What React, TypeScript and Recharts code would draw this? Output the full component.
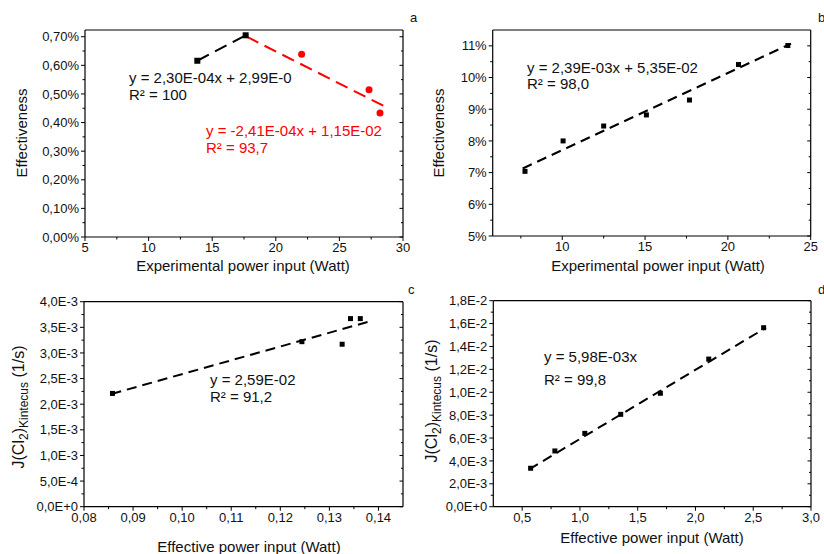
import React from 'react';
import { ScatterChart, Scatter, XAxis, YAxis } from 'recharts';

// ---------- Data ----------
// Panel a
const aBlackPoints = [
  { x: 13.83, y: 0.616 },
  { x: 17.63, y: 0.705 },
];
const aRedPoints = [
  { x: 22.03, y: 0.639 },
  { x: 27.33, y: 0.515 },
  { x: 28.19, y: 0.433 },
];
const aBlackFit = [
  { x: 13.83, y: 0.616 },
  { x: 17.63, y: 0.705 },
];
const aRedFit = [
  { x: 17.71, y: 0.7 },
  { x: 28.72, y: 0.453 },
];
const aXTicks = [5, 7.5, 10, 12.5, 15, 17.5, 20, 22.5, 25, 27.5, 30];
const aXMajors = [5, 10, 15, 20, 25, 30];
const aYTicks = [0, 0.05, 0.1, 0.15, 0.2, 0.25, 0.3, 0.35, 0.4, 0.45, 0.5, 0.55, 0.6, 0.65, 0.7];
const aYMajors = [0, 0.1, 0.2, 0.3, 0.4, 0.5, 0.6, 0.7];

// Panel b
const bPoints = [
  { x: 7.75, y: 7.04 },
  { x: 10.05, y: 8.0 },
  { x: 12.5, y: 8.47 },
  { x: 15.08, y: 8.82 },
  { x: 17.68, y: 9.29 },
  { x: 20.64, y: 10.41 },
  { x: 23.62, y: 11.01 },
];
const bFit = [
  { x: 7.61, y: 7.13 },
  { x: 23.81, y: 11.07 },
];
const bXTicks = [7.5, 10, 12.5, 15, 17.5, 20, 22.5, 25];
const bXMajors = [10, 15, 20, 25];
const bYTicks = [5, 5.5, 6, 6.5, 7, 7.5, 8, 8.5, 9, 9.5, 10, 10.5, 11];
const bYMajors = [5, 6, 7, 8, 9, 10, 11];

// Panel c
const cPoints = [
  { x: 0.0858, y: 0.00221 },
  { x: 0.1244, y: 0.00322 },
  { x: 0.1326, y: 0.00317 },
  { x: 0.1343, y: 0.00367 },
  { x: 0.1363, y: 0.00367 },
];
const cFit = [
  { x: 0.0856, y: 0.0022 },
  { x: 0.138, y: 0.00361 },
];
const cXTicks = [0.08, 0.085, 0.09, 0.095, 0.1, 0.105, 0.11, 0.115, 0.12, 0.125, 0.13, 0.135, 0.14];
const cXMajors = [0.08, 0.09, 0.1, 0.11, 0.12, 0.13, 0.14];
const cYTicks = [0, 0.00025, 0.0005, 0.00075, 0.001, 0.00125, 0.0015, 0.00175, 0.002, 0.00225, 0.0025, 0.00275, 0.003, 0.00325, 0.0035, 0.00375, 0.004];
const cYMajors = [0, 0.0005, 0.001, 0.0015, 0.002, 0.0025, 0.003, 0.0035, 0.004];

// Panel d
const dPoints = [
  { x: 0.573, y: 0.00336 },
  { x: 0.783, y: 0.00487 },
  { x: 1.042, y: 0.00641 },
  { x: 1.353, y: 0.00807 },
  { x: 1.696, y: 0.00991 },
  { x: 2.115, y: 0.0129 },
  { x: 2.59, y: 0.01564 },
];
const dFit = [
  { x: 0.561, y: 0.00327 },
  { x: 2.61, y: 0.01564 },
];
const dXTicks = [0.5, 0.75, 1, 1.25, 1.5, 1.75, 2, 2.25, 2.5, 2.75, 3];
const dXMajors = [0.5, 1, 1.5, 2, 2.5, 3];
const dYTicks = [0, 0.001, 0.002, 0.003, 0.004, 0.005, 0.006, 0.007, 0.008, 0.009, 0.01, 0.011, 0.012, 0.013, 0.014, 0.015, 0.016, 0.017, 0.018];
const dYMajors = [0, 0.002, 0.004, 0.006, 0.008, 0.01, 0.012, 0.014, 0.016, 0.018];

// ---------- Formatting ----------
const FONT = '"Liberation Sans", Arial, sans-serif';
const comma = (s: string) => s.replace('.', ',');
const fmtInt = (v: number) => String(Math.round(v));
const fmtPct2 = (v: number) => comma(v.toFixed(2)) + '%';
const fmtPct0 = (v: number) => v.toFixed(0) + '%';
const fmtFix2 = (v: number) => comma(v.toFixed(2));
const fmtFix1 = (v: number) => comma(v.toFixed(1));
const fmtSci = (v: number) => {
  if (v === 0) return '0,0E+0';
  const e = Math.floor(Math.log10(v) + 1e-9);
  const m = v / Math.pow(10, e);
  return comma(m.toFixed(1)) + 'E' + (e >= 0 ? '+' : '-') + Math.abs(e);
};

const isMajor = (v: number, majors: number[]) =>
  majors.some((m) => Math.abs(m - v) <= 1e-12 + 1e-7 * Math.abs(m));

type Side = 'bottom' | 'left' | 'top' | 'right';
function makeTick(side: Side, majors: number[], fmt?: (v: number) => string) {
  return (props: any) => {
    const { x, y, payload } = props;
    const v = payload.value;
    const maj = isMajor(v, majors);
    const L = maj ? 4 : 2.5;
    const stroke = '#000';
    if (side === 'bottom') {
      return (
        <g>
          <line x1={x} y1={y} x2={x} y2={y + L} stroke={stroke} strokeWidth={1} />
          {maj && fmt ? (
            <text x={x} y={y + 15} textAnchor="middle" fontSize={13} fontFamily={FONT} fill="#111">
              {fmt(v)}
            </text>
          ) : null}
        </g>
      );
    }
    if (side === 'left') {
      return (
        <g>
          <line x1={x - L} y1={y} x2={x} y2={y} stroke={stroke} strokeWidth={1} />
          {maj && fmt ? (
            <text x={x - 6} y={y + 4.6} textAnchor="end" fontSize={13} fontFamily={FONT} fill="#111">
              {fmt(v)}
            </text>
          ) : null}
        </g>
      );
    }
    if (side === 'top') {
      return <line x1={x} y1={y} x2={x} y2={y + (maj ? 3.5 : 2)} stroke={stroke} strokeWidth={1} />;
    }
    return <line x1={x - (maj ? 3.5 : 2)} y1={y} x2={x} y2={y} stroke={stroke} strokeWidth={1} />;
  };
}

const Empty = () => <g />;
const squareShape = (size: number) => (props: any) => (
  <rect x={props.cx - size / 2} y={props.cy - size / 2} width={size} height={size} fill="#000" />
);
const circleShape = (props: any) => <circle cx={props.cx} cy={props.cy} r={3.5} fill="#ff0000" />;

const axisLineStyle = { stroke: '#000', strokeWidth: 1.2 };

interface PanelProps {
  left: number;
  top: number;
  plot: { top: number; right: number; bottom: number; left: number }; // distances of plot box from panel edges
  xDomain: [number, number];
  yDomain: [number, number];
  xTicks: number[];
  xMajors: number[];
  xFmt: (v: number) => string;
  yTicks: number[];
  yMajors: number[];
  yFmt: (v: number) => string;
  children?: React.ReactNode;
}

function Panel(p: PanelProps) {
  const margin = {
    top: p.plot.top - 1,
    right: p.plot.right - 1,
    bottom: p.plot.bottom - 1,
    left: p.plot.left - 1,
  };
  return (
    <div style={{ position: 'absolute', left: p.left, top: p.top }}>
      <ScatterChart width={412} height={277} margin={margin}>
        <XAxis
          type="number"
          dataKey="x"
          domain={p.xDomain}
          ticks={p.xTicks}
          allowDataOverflow
          height={1}
          tickSize={0}
          tickMargin={0}
          tickLine={false}
          interval={0}
          axisLine={axisLineStyle}
          tick={makeTick('bottom', p.xMajors, p.xFmt)}
        />
        <XAxis
          xAxisId="t"
          orientation="top"
          type="number"
          domain={p.xDomain}
          ticks={p.xTicks}
          allowDataOverflow
          height={1}
          tickSize={0}
          tickMargin={0}
          tickLine={false}
          interval={0}
          axisLine={axisLineStyle}
          tick={makeTick('top', p.xMajors)}
        />
        <YAxis
          type="number"
          dataKey="y"
          domain={p.yDomain}
          ticks={p.yTicks}
          allowDataOverflow
          width={1}
          tickSize={0}
          tickMargin={0}
          tickLine={false}
          interval={0}
          axisLine={axisLineStyle}
          tick={makeTick('left', p.yMajors, p.yFmt)}
        />
        <YAxis
          yAxisId="r"
          orientation="right"
          type="number"
          domain={p.yDomain}
          ticks={p.yTicks}
          allowDataOverflow
          width={1}
          tickSize={0}
          tickMargin={0}
          tickLine={false}
          interval={0}
          axisLine={axisLineStyle}
          tick={makeTick('right', p.yMajors)}
        />
        {p.children}
      </ScatterChart>
    </div>
  );
}

const txt = { fontFamily: FONT, fill: '#111' } as const;

export default function App() {
  return (
    <div style={{ position: 'absolute', left: 0, top: 0, width: 824, height: 554, background: '#fff', overflow: 'hidden' }}>
      <Panel
        left={0}
        top={0}
        plot={{ top: 30, right: 9, bottom: 40, left: 85 }}
        xDomain={[5, 30]}
        yDomain={[0, 0.7235]}
        xTicks={aXTicks}
        xMajors={aXMajors}
        xFmt={fmtInt}
        yTicks={aYTicks}
        yMajors={aYMajors}
        yFmt={fmtPct2}
      >
        <Scatter data={aBlackFit} shape={Empty} line={{ stroke: '#000', strokeWidth: 2, strokeDasharray: '13 7' }} isAnimationActive={false} />
        <Scatter data={aRedFit} shape={Empty} line={{ stroke: '#ff0000', strokeWidth: 2, strokeDasharray: '13 7' }} isAnimationActive={false} />
        <Scatter data={aBlackPoints} shape={squareShape(6)} isAnimationActive={false} />
        <Scatter data={aRedPoints} shape={circleShape} isAnimationActive={false} />
      </Panel>

      <Panel
        left={412}
        top={0}
        plot={{ top: 30, right: 13.3, bottom: 41, left: 80.7 }}
        xDomain={[5.8, 25]}
        yDomain={[5, 11.5]}
        xTicks={bXTicks}
        xMajors={bXMajors}
        xFmt={fmtInt}
        yTicks={bYTicks}
        yMajors={bYMajors}
        yFmt={fmtPct0}
      >
        <Scatter data={bFit} shape={Empty} line={{ stroke: '#000', strokeWidth: 2, strokeDasharray: '10 6' }} isAnimationActive={false} />
        <Scatter data={bPoints} shape={squareShape(5)} isAnimationActive={false} />
      </Panel>

      <Panel
        left={0}
        top={277}
        plot={{ top: 24.7, right: 9, bottom: 47.3, left: 84 }}
        xDomain={[0.08, 0.145]}
        yDomain={[0, 0.004]}
        xTicks={cXTicks}
        xMajors={cXMajors}
        xFmt={fmtFix2}
        yTicks={cYTicks}
        yMajors={cYMajors}
        yFmt={fmtSci}
      >
        <Scatter data={cPoints} shape={squareShape(5)} isAnimationActive={false} />
        <Scatter data={cFit} shape={Empty} line={{ stroke: '#000', strokeWidth: 2, strokeDasharray: '10 6' }} isAnimationActive={false} />
      </Panel>

      <Panel
        left={412}
        top={277}
        plot={{ top: 23.7, right: 13, bottom: 47.3, left: 81.3 }}
        xDomain={[0.25, 3]}
        yDomain={[0, 0.018]}
        xTicks={dXTicks}
        xMajors={dXMajors}
        xFmt={fmtFix1}
        yTicks={dYTicks}
        yMajors={dYMajors}
        yFmt={fmtSci}
      >
        <Scatter data={dFit} shape={Empty} line={{ stroke: '#000', strokeWidth: 2, strokeDasharray: '10 6' }} isAnimationActive={false} />
        <Scatter data={dPoints} shape={squareShape(5)} isAnimationActive={false} />
      </Panel>

      <svg width={824} height={554} style={{ position: 'absolute', left: 0, top: 0, pointerEvents: 'none' }}>
        {/* panel letters */}
        <text x={410} y={22} fontSize={13} {...txt}>a</text>
        <text x={818} y={22} fontSize={13} {...txt}>b</text>
        <text x={408} y={294} fontSize={13} {...txt}>c</text>
        <text x={818} y={294} fontSize={13} {...txt}>d</text>

        {/* axis titles */}
        <text x={243} y={271} fontSize={15} textAnchor="middle" {...txt}>Experimental power input (Watt)</text>
        <text x={658} y={271} fontSize={15} textAnchor="middle" {...txt}>Experimental power input (Watt)</text>
        <text x={249} y={552} fontSize={15} textAnchor="middle" {...txt}>Effective power input (Watt)</text>
        <text x={652} y={543} fontSize={15} textAnchor="middle" {...txt}>Effective power input (Watt)</text>

        <text x={27} y={133} fontSize={15} textAnchor="middle" transform="rotate(-90 27 133)" {...txt}>Effectiveness</text>
        <text x={444} y={133} fontSize={15} textAnchor="middle" transform="rotate(-90 444 133)" {...txt}>Effectiveness</text>

        <text x={24} y={407} fontSize={16} textAnchor="middle" transform="rotate(-90 24 407)" {...txt}>
          J(Cl<tspan dy={4} fontSize={12}>2</tspan><tspan dy={-4}>)</tspan><tspan dy={4} fontSize={12}>Kintecus</tspan><tspan dy={-4}> (1/s)</tspan>
        </text>
        <text x={437} y={401} fontSize={16} textAnchor="middle" transform="rotate(-90 437 401)" {...txt}>
          J(Cl<tspan dy={4} fontSize={12}>2</tspan><tspan dy={-4}>)</tspan><tspan dy={4} fontSize={12}>Kintecus</tspan><tspan dy={-4}> (1/s)</tspan>
        </text>

        {/* annotations */}
        <text x={129} y={83} fontSize={15} {...txt}>y = 2,30E-04x + 2,99E-0</text>
        <text x={129} y={100} fontSize={15} {...txt}>R² = 100</text>
        <text x={206} y={136} fontSize={15} fontFamily={FONT} fill="#ff0000">y = -2,41E-04x + 1,15E-02</text>
        <text x={206} y={153} fontSize={15} fontFamily={FONT} fill="#ff0000">R² = 93,7</text>

        <text x={527} y={73} fontSize={15} {...txt}>y = 2,39E-03x + 5,35E-02</text>
        <text x={527} y={89} fontSize={15} {...txt}>R² = 98,0</text>

        <text x={210} y={385} fontSize={15} {...txt}>y = 2,59E-02</text>
        <text x={210} y={402} fontSize={15} {...txt}>R² = 91,2</text>

        <text x={544} y={362} fontSize={15} {...txt}>y = 5,98E-03x</text>
        <text x={544} y={385} fontSize={15} {...txt}>R² = 99,8</text>
      </svg>
    </div>
  );
}
